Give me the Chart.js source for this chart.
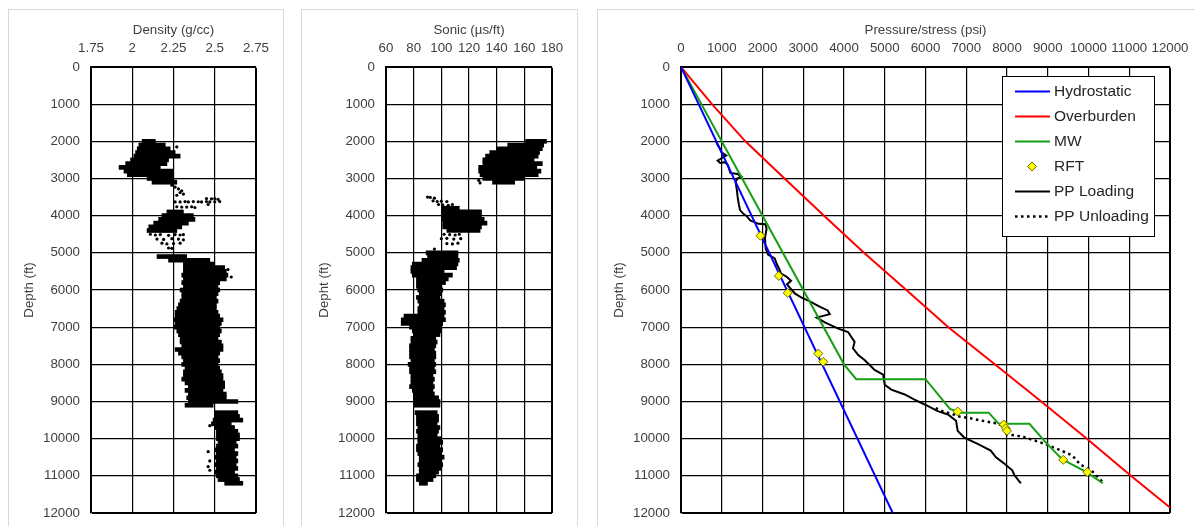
<!DOCTYPE html>
<html>
<head>
<meta charset="utf-8">
<script src="https://cdn.jsdelivr.net/npm/chart.js@4.4.1/dist/chart.umd.min.js"></script>
<style>
  body { margin: 0; background: #fff; width: 1195px; height: 526px; overflow: hidden; position: relative; }
  .card { position: absolute; top: 9px; height: 540px; border: 1px solid #d9d9d9; box-sizing: border-box; }
  canvas { position: absolute; top: 9px; }
</style>
</head>
<body>
<div class="card" style="left:8px;width:276px"></div>
<div class="card" style="left:301px;width:277px"></div>
<div class="card" style="left:597px;width:620px"></div>
<canvas id="density" width="275" height="520" style="left:8px"></canvas>
<canvas id="sonic" width="276" height="520" style="left:301px"></canvas>
<canvas id="pressure" width="603" height="520" style="left:597px"></canvas>
<script>
// tick labels
const depthTicks = [0, 1000, 2000, 3000, 4000, 5000, 6000, 7000, 8000, 9000, 10000, 11000, 12000];
const densityTicks = [1.75, 2, 2.25, 2.5, 2.75];
const sonicTicks = [60, 80, 100, 120, 140, 160, 180];
const pressureTicks = [0, 1000, 2000, 3000, 4000, 5000, 6000, 7000, 8000, 9000, 10000, 11000, 12000];

// density log: spread of the point cloud per 100 ft row (g/cc)
const densityDepth = [2000, 2100, 2200, 2300, 2400, 2500, 2600, 2700, 2800, 2900, 3000, 3100,
  3900, 4000, 4100, 4200, 4300, 4400,
  5100, 5200, 5300, 5400, 5500, 5600, 5700, 5800, 5900, 6000, 6100, 6200, 6300, 6400, 6500, 6600, 6700, 6800, 6900,
  7000, 7100, 7200, 7300, 7400, 7500, 7600, 7700, 7800, 7900, 8000, 8100, 8200, 8300, 8400, 8500, 8600, 8700, 8800, 8900,
  9000, 9100, 9300, 9400, 9500, 9600, 9700, 9800, 9900, 10000, 10100, 10200, 10300, 10400, 10500, 10600, 10700, 10800,
  10900, 11000, 11100, 11200];
const densityLow = [2.06, 2.04, 2.03, 2.02, 2.01, 1.99, 1.96, 1.92, 1.95, 1.97, 2.09, 2.12,
  2.21, 2.18, 2.16, 2.13, 2.10, 2.09,
  2.15, 2.22, 2.31, 2.31, 2.31, 2.30, 2.31, 2.30, 2.31, 2.29, 2.30, 2.30, 2.29, 2.28, 2.27, 2.26, 2.26, 2.25, 2.26,
  2.25, 2.27, 2.28, 2.29, 2.29, 2.30, 2.26, 2.28, 2.30, 2.31, 2.30, 2.32, 2.31, 2.31, 2.30, 2.32, 2.34, 2.32, 2.34, 2.33,
  2.34, 2.32, 2.50, 2.50, 2.49, 2.48, 2.50, 2.51, 2.51, 2.51, 2.52, 2.51, 2.50, 2.51, 2.50, 2.51, 2.50, 2.51,
  2.50, 2.51, 2.52, 2.56];
const densityHigh = [2.14, 2.20, 2.23, 2.26, 2.29, 2.22, 2.21, 2.17, 2.25, 2.25, 2.25, 2.27,
  2.31, 2.37, 2.38, 2.34, 2.30, 2.27,
  2.33, 2.47, 2.50, 2.56, 2.57, 2.58, 2.57, 2.53, 2.52, 2.53, 2.52, 2.51, 2.52, 2.51, 2.51, 2.52, 2.53, 2.55, 2.54,
  2.53, 2.54, 2.53, 2.52, 2.54, 2.55, 2.55, 2.53, 2.52, 2.53, 2.52, 2.53, 2.54, 2.55, 2.55, 2.56, 2.56, 2.55, 2.57, 2.57,
  2.64, 2.49, 2.64, 2.65, 2.67, 2.60, 2.62, 2.64, 2.65, 2.65, 2.63, 2.64, 2.62, 2.64, 2.63, 2.64, 2.63, 2.64,
  2.62, 2.64, 2.65, 2.67];
// scattered density samples
const densityDotX = [2.24, 2.26, 2.28, 2.30, 2.29, 2.31, 2.27, 2.45, 2.48, 2.50, 2.52,
  2.26, 2.29, 2.32, 2.34, 2.37, 2.40, 2.42, 2.45, 2.47, 2.50, 2.53, 2.46,
  2.27, 2.30, 2.33, 2.36, 2.38,
  2.11, 2.14, 2.17, 2.22, 2.26, 2.29, 2.31, 2.15, 2.19, 2.24, 2.28, 2.31, 2.18, 2.21, 2.25, 2.29, 2.22, 2.24,
  2.27, 2.58, 2.60, 2.47, 2.46, 2.47, 2.46, 2.47];
const densityDotY = [3180, 3230, 3280, 3330, 3380, 3420, 3450, 3540, 3550, 3540, 3560,
  3630, 3630, 3620, 3630, 3620, 3625, 3630, 3620, 3630, 3625, 3620, 3700,
  3760, 3770, 3770, 3760, 3780,
  4500, 4520, 4510, 4530, 4510, 4520, 4510, 4630, 4640, 4620, 4630, 4650, 4740, 4760, 4750, 4740, 4870, 4880,
  2150, 5450, 5650, 9650, 10350, 10600, 10750, 10850];

// sonic log: spread of the point cloud per 100 ft row (us/ft)
const sonicDepth = [2000, 2100, 2200, 2300, 2400, 2500, 2600, 2700, 2800, 2900, 3000, 3100,
  3800, 3900, 4000, 4100, 4200, 4300, 4400,
  5000, 5100, 5200, 5300, 5400, 5500, 5600, 5700, 5800, 5900, 6000, 6100, 6200, 6300, 6400, 6500, 6600, 6700, 6800, 6900,
  7000, 7100, 7200, 7300, 7400, 7500, 7600, 7700, 7800, 7900, 8000, 8100, 8200, 8300, 8400, 8500, 8600, 8700, 8800, 8900,
  9000, 9100, 9300, 9400, 9500, 9600, 9700, 9800, 9900, 10000, 10100, 10200, 10300, 10400, 10500, 10600, 10700, 10800,
  10900, 11000, 11100, 11200];
const sonicLow = [161, 148, 140, 135, 132, 130, 130, 127, 127, 128, 130, 137,
  100, 100, 100, 100, 101, 101, 104,
  89, 90, 86, 79, 78, 78, 79, 82, 82, 82, 83, 84, 82, 83, 84, 83, 83, 73, 71, 71,
  77, 79, 80, 78, 78, 77, 77, 77, 77, 78, 76, 77, 77, 78, 78, 78, 77, 79, 80, 80,
  80, 80, 81, 82, 82, 82, 83, 82, 83, 83, 83, 82, 82, 83, 84, 84, 83, 84,
  84, 82, 82, 84];
const sonicHigh = [176, 174, 173, 171, 170, 167, 173, 169, 172, 170, 160, 153,
  113, 129, 129, 131, 133, 129, 128,
  112, 112, 113, 112, 111, 102, 108, 105, 103, 100, 101, 100, 99, 102, 103, 102, 103, 102, 103, 101,
  100, 100, 99, 96, 97, 96, 95, 96, 96, 95, 96, 95, 96, 94, 95, 94, 95, 94, 95, 98,
  99, 99, 97, 98, 98, 97, 99, 98, 97, 100, 101, 99, 101, 100, 102, 100, 101, 100,
  98, 96, 94, 90];
const sonicDotX = [90, 92, 95, 94, 97, 100, 104, 98, 101, 105, 108,
  102, 106, 110, 113, 100, 104, 109, 114, 104, 108, 112, 95, 127, 128];
const sonicDotY = [3500, 3510, 3530, 3600, 3620, 3610, 3620, 3700, 3710, 3720, 3700,
  4500, 4510, 4520, 4500, 4620, 4610, 4630, 4620, 4750, 4760, 4740, 4900, 3050, 3120];

// pressure / stress profiles (psi vs ft)
const hydroPsi = [0, 5196];
const hydroDepth = [0, 12000];
const obPsi = [0, 760, 1580, 2540, 3510, 4490, 5530, 6560, 7700, 8840, 9960, 11040, 12000];
const obDepth = [0, 1000, 2000, 3000, 4000, 5000, 6000, 7000, 8000, 9000, 10000, 11000, 11850];
const mwPsi = [0, 4000, 4300, 6000, 6600, 6850, 7550, 7800, 8550, 8950, 9350, 9950, 10350];
const mwDepth = [0, 8000, 8400, 8400, 9200, 9300, 9300, 9600, 9600, 10100, 10550, 10900, 11200];
const rftPsi = [1950, 2400, 2620, 3370, 3490, 6790, 7920, 7970, 8000, 9380, 9970];
const rftDepth = [4540, 5620, 6080, 7710, 7930, 9270, 9620, 9720, 9790, 10570, 10900];
const ppLoadPsi = [860, 900, 960, 1000, 1110, 1050, 900, 960, 1080, 1150, 1180, 1210, 1390, 1480, 1380, 1340,
  1370, 1390, 1420, 1450, 1530, 1600, 1700, 1900, 2070, 2100, 2060, 2080, 2140, 2300, 2350, 2420, 2450,
  2600, 2700, 2600, 2680, 2800, 2950, 3150, 3400, 3600, 3650, 3330, 3530, 3860, 4100, 4260, 4220, 4350,
  4510, 4630, 4750, 4960, 5000, 5160, 5490, 5730, 5980, 6300, 6550, 6750, 6790, 6950, 7280, 7600, 7730,
  7930, 8130, 8180, 8340];
const ppLoadDepth = [2000, 2100, 2200, 2300, 2380, 2420, 2520, 2580, 2560, 2640, 2740, 2850, 2880, 2950, 3000, 3100,
  3300, 3500, 3700, 3850, 3950, 4000, 4130, 4220, 4230, 4350, 4600, 4900, 5050, 5150, 5300, 5450, 5550,
  5650, 5750, 5850, 5950, 6100, 6200, 6300, 6450, 6550, 6650, 6740, 6870, 7040, 7130, 7400, 7570, 7750,
  7890, 8020, 8150, 8280, 8550, 8680, 8810, 8950, 9080, 9260, 9350, 9520, 9790, 9970, 10140, 10320, 10500,
  10670, 10850, 10980, 11200];
const ppUnloadPsi = [6250, 6450, 6650, 6800, 7100, 7400, 7700, 7900, 7990, 8400, 8900, 9350, 9600, 9800, 10050, 10200, 10380];
const ppUnloadDepth = [9180, 9280, 9330, 9400, 9450, 9520, 9580, 9650, 9880, 9950, 10130, 10330, 10450, 10700, 10830, 11000, 11200];

const textColor = '#404040';
Chart.defaults.font.family = "'Liberation Sans', Arial, sans-serif";
Chart.defaults.font.size = 13.3;
Chart.defaults.color = textColor;

const pts = (xs, ys) => xs.map((x, i) => ({x, y: ys[i]}));
const rows = (ds, lo, hi) => ds.map((d, i) => ({y: d, x: [lo[i], hi[i]]}));

function axes(xTitle, xTicks, yTitle, yWidth, yTitlePad) {
  const xMax = xTicks[xTicks.length - 1];
  const yMax = depthTicks[depthTicks.length - 1];
  return {
    x: {
      type: 'linear', position: 'top', min: xTicks[0], max: xMax, offset: false, beginAtZero: false,
      afterBuildTicks: s => { s.ticks = xTicks.map(v => ({value: v})); },
      afterFit: s => { s.height = 58; s.paddingLeft = 0; s.paddingRight = 0; },
      ticks: {padding: 11, maxRotation: 0, autoSkip: false, callback: v => String(v)},
      grid: {color: '#000', drawTicks: false, offset: false, lineWidth: c => (c.tick && c.tick.value === xMax) ? 2 : 1.2},
      border: {color: '#000', width: 2},
      title: {display: true, text: xTitle, padding: {top: 13, bottom: 0}},
    },
    y: {
      type: 'linear', position: 'left', reverse: true, min: 0, max: yMax, offset: false, beginAtZero: false,
      afterBuildTicks: s => { s.ticks = depthTicks.map(v => ({value: v})); },
      afterFit: s => { s.width = yWidth; s.paddingTop = 0; s.paddingBottom = 0; },
      ticks: {padding: 11, autoSkip: false, callback: v => String(v)},
      grid: {color: '#000', drawTicks: false, offset: false, lineWidth: c => (c.tick && c.tick.value === yMax) ? 2 : 1.2},
      border: {color: '#000', width: 2},
      title: {display: true, text: yTitle, padding: {top: yTitlePad, bottom: 0}},
    },
  };
}

function baseOptions(scales, padRight) {
  return {
    responsive: false,
    animation: false,
    devicePixelRatio: 1,
    layout: {padding: {left: 0, top: 0, right: padRight, bottom: 16}},
    plugins: {legend: {display: false}, tooltip: {enabled: false}},
    scales,
  };
}

function logChart(id, depth, lo, hi, dotX, dotY, xTitle, xTicks, yTitle, yWidth, yTitlePad, padRight) {
  return new Chart(document.getElementById(id), {
    type: 'scatter',
    data: {
      datasets: [
        {type: 'bar', indexAxis: 'y', data: rows(depth, lo, hi), backgroundColor: '#000',
         borderWidth: 0, barThickness: 4, grouped: false},
        {type: 'scatter', data: pts(dotX, dotY), pointRadius: 1.6, backgroundColor: '#000', borderWidth: 0},
      ],
    },
    options: baseOptions(axes(xTitle, xTicks, yTitle, yWidth, yTitlePad), padRight),
  });
}

logChart('density', densityDepth, densityLow, densityHigh, densityDotX, densityDotY,
  'Density (g/cc)', densityTicks, 'Depth (ft)', 83, 13, 27);
logChart('sonic', sonicDepth, sonicLow, sonicHigh, sonicDotX, sonicDotY,
  'Sonic (\u00b5s/ft)', sonicTicks, 'Depht (ft)', 85, 15, 25);

// legend drawn as a framed box inside the plot, like the source
const boxLegend = {
  id: 'boxLegend',
  afterDraw(chart) {
    const {ctx, chartArea} = chart;
    const w = 152, h = 160;
    const left = chartArea.right - 168, top = chartArea.top + 9;
    ctx.save();
    ctx.fillStyle = '#fff';
    ctx.fillRect(left, top, w, h);
    ctx.strokeStyle = '#000';
    ctx.lineWidth = 1;
    ctx.strokeRect(left + 0.5, top + 0.5, w, h);
    ctx.font = "15.5px 'Liberation Sans', Arial, sans-serif";
    ctx.textBaseline = 'middle';
    chart.data.datasets.forEach((ds, i) => {
      const y = top + 15.5 + i * 25;
      if (ds.showLine) {
        ctx.beginPath();
        ctx.setLineDash(ds.borderDash || []);
        ctx.strokeStyle = ds.borderColor;
        ctx.lineWidth = ds.borderWidth;
        ctx.moveTo(left + 13, y);
        ctx.lineTo(left + 48, y);
        ctx.stroke();
        ctx.setLineDash([]);
      } else {
        const r = 4.5, cx = left + 30;
        ctx.beginPath();
        ctx.moveTo(cx, y - r); ctx.lineTo(cx + r, y); ctx.lineTo(cx, y + r); ctx.lineTo(cx - r, y);
        ctx.closePath();
        ctx.fillStyle = ds.backgroundColor;
        ctx.fill();
        ctx.strokeStyle = ds.borderColor;
        ctx.lineWidth = 1;
        ctx.stroke();
      }
      ctx.fillStyle = '#262626';
      ctx.fillText(ds.label, left + 52, y + 0.5);
    });
    ctx.restore();
  },
};

const line = (label, xs, ys, color, extra) => Object.assign({
  label, data: pts(xs, ys), showLine: true, pointRadius: 0, borderColor: color, borderWidth: 2,
  tension: 0, order: 2,
}, extra || {});

new Chart(document.getElementById('pressure'), {
  type: 'scatter',
  data: {
    datasets: [
      line('Hydrostatic', hydroPsi, hydroDepth, '#0000ff'),
      line('Overburden', obPsi, obDepth, '#ff0000'),
      line('MW', mwPsi, mwDepth, '#14a014'),
      {label: 'RFT', data: pts(rftPsi, rftDepth), showLine: false, pointStyle: 'rectRot', pointRadius: 4.5,
       backgroundColor: '#ffff00', borderColor: '#6b6b00', borderWidth: 1, order: 0},
      line('PP Loading', ppLoadPsi, ppLoadDepth, '#000000'),
      line('PP Unloading', ppUnloadPsi, ppUnloadDepth, '#000000', {borderDash: [2.5, 3.5], borderWidth: 2.5}),
    ],
  },
  options: baseOptions(axes('Pressure/stress (psi)', pressureTicks, 'Depth (ft)', 84, 14, 30), 30),
  plugins: [boxLegend],
});
</script>
</body>
</html>
